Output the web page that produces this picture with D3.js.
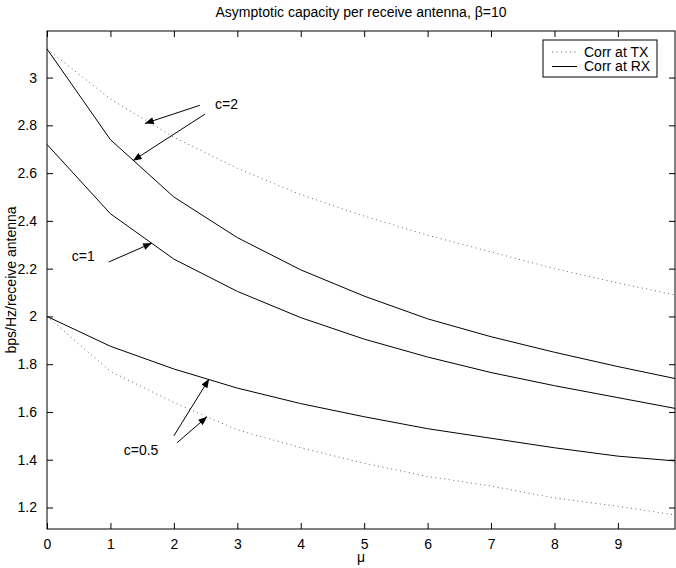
<!DOCTYPE html>
<html>
<head>
<meta charset="utf-8">
<script src="https://cdn.jsdelivr.net/npm/d3@7"></script>
<style>
  body { margin: 0; background: #fff; }
  text { font-family: "Liberation Sans", Arial, Helvetica, sans-serif; }
</style>
</head>
<body>
<div id="chart"></div>
<script>
// mu values (x axis)
const mu = [0, 1, 2, 3, 4, 5, 6, 7, 8, 9, 9.9];
// Corr at RX (solid), c = 2, 1, 0.5
const rxC2 = [3.12, 2.74, 2.50, 2.33, 2.195, 2.085, 1.99, 1.915, 1.85, 1.79, 1.74];
const rxC1 = [2.72, 2.43, 2.24, 2.105, 1.995, 1.905, 1.83, 1.765, 1.71, 1.66, 1.615];
const rxC05 = [2.0, 1.875, 1.78, 1.70, 1.635, 1.58, 1.53, 1.49, 1.45, 1.415, 1.395];
// Corr at TX (dotted), c = 2, 0.5
const txC2 = [3.12, 2.91, 2.75, 2.62, 2.51, 2.42, 2.34, 2.27, 2.20, 2.14, 2.09];
const txC05 = [2.0, 1.77, 1.64, 1.525, 1.45, 1.385, 1.33, 1.29, 1.24, 1.205, 1.169];

const xTicks = [0, 1, 2, 3, 4, 5, 6, 7, 8, 9];
const yTicks = [1.2, 1.4, 1.6, 1.8, 2, 2.2, 2.4, 2.6, 2.8, 3];

// annotations in data units: label, label position, arrows [from, to]
const notes = [
  {label: "c=2", at: [2.65, 2.87], arrows: [[[2.41, 2.884], [1.544, 2.808]], [[2.49, 2.847], [1.354, 2.652]]]},
  {label: "c=1", at: [0.39, 2.23], arrows: [[[0.975, 2.228], [1.654, 2.307]]]},
  {label: "c=0.5", at: [1.21, 1.42], arrows: [[[2.0, 1.50], [2.555, 1.738]], [[2.05, 1.471], [2.523, 1.58]]]}
];

const width = 676, height = 568;
const marginTop = 31, marginRight = 1, marginBottom = 39, marginLeft = 47;
const fontSize = 14;

const x = d3.scaleLinear()
    .domain([0, 9.9])
    .range([marginLeft, width - marginRight]);

const y = d3.scaleLinear()
    .domain([1.11, 3.195])
    .range([height - marginBottom, marginTop]);

const svg = d3.select("#chart")
  .append("svg")
    .attr("width", width)
    .attr("height", height)
    .attr("viewBox", [0, 0, width, height])
    .attr("style", `font: ${fontSize}px 'Liberation Sans', Arial, sans-serif;`);

svg.append("defs").append("marker")
    .attr("id", "head")
    .attr("viewBox", "0 0 10 8")
    .attr("refX", 10)
    .attr("refY", 4)
    .attr("markerWidth", 11)
    .attr("markerHeight", 7)
    .attr("markerUnits", "userSpaceOnUse")
    .attr("orient", "auto")
  .append("path")
    .attr("d", "M0,0L10,4L0,8z")
    .attr("fill", "#000");

// axes, Matlab style: ticks point inward on all four sides
const tickLen = 6;
svg.append("g")
    .attr("transform", `translate(0,${y.range()[0]})`)
    .call(d3.axisBottom(x).tickValues(xTicks).tickFormat(d3.format("d")).tickSizeInner(-tickLen).tickSizeOuter(0).tickPadding(10))
    .call(g => g.select(".domain").remove());

svg.append("g")
    .attr("transform", `translate(0,${y.range()[1]})`)
    .call(d3.axisTop(x).tickValues(xTicks).tickFormat("").tickSizeInner(-tickLen).tickSizeOuter(0))
    .call(g => g.select(".domain").remove());

svg.append("g")
    .attr("transform", `translate(${x.range()[0]},0)`)
    .call(d3.axisLeft(y).tickValues(yTicks).tickFormat(d => d3.format("")(d)).tickSizeInner(-tickLen).tickSizeOuter(0).tickPadding(10))
    .call(g => g.select(".domain").remove());

svg.append("g")
    .attr("transform", `translate(${x.range()[1]},0)`)
    .call(d3.axisRight(y).tickValues(yTicks).tickFormat("").tickSizeInner(-tickLen).tickSizeOuter(0))
    .call(g => g.select(".domain").remove());

svg.selectAll(".tick text").attr("font-size", fontSize).attr("font-family", "'Liberation Sans', Arial, sans-serif");
svg.selectAll(".tick line").attr("stroke", "#000");

// plot box
svg.append("rect")
    .attr("x", x.range()[0])
    .attr("y", y.range()[1])
    .attr("width", x.range()[1] - x.range()[0])
    .attr("height", y.range()[0] - y.range()[1])
    .attr("fill", "none")
    .attr("stroke", "#000");

const line = d3.line()
    .x((d, i) => x(mu[i]))
    .y(d => y(d));

const curves = [
  {values: txC2, dotted: true},
  {values: txC05, dotted: true},
  {values: rxC2, dotted: false},
  {values: rxC1, dotted: false},
  {values: rxC05, dotted: false}
];

svg.append("g")
    .attr("fill", "none")
  .selectAll()
  .data(curves)
  .join("path")
    .attr("d", d => line(d.values))
    .attr("stroke", d => d.dotted ? "#666" : "#000")
    .attr("stroke-width", 1)
    .attr("stroke-dasharray", d => d.dotted ? "1 3.5" : null);

// annotations
const ann = svg.append("g");
notes.forEach(n => {
  ann.append("text")
      .attr("x", x(n.at[0]))
      .attr("y", y(n.at[1]))
      .text(n.label);
  n.arrows.forEach(([a, b]) => {
    ann.append("line")
        .attr("x1", x(a[0])).attr("y1", y(a[1]))
        .attr("x2", x(b[0])).attr("y2", y(b[1]))
        .attr("stroke", "#000")
        .attr("marker-end", "url(#head)");
  });
});

// legend
const legend = svg.append("g").attr("transform", "translate(543,40)");
legend.append("rect")
    .attr("width", 114).attr("height", 37)
    .attr("fill", "#fff").attr("stroke", "#000");
[["Corr at TX", true], ["Corr at RX", false]].forEach(([label, dotted], i) => {
  const yy = 12 + i * 14.5;
  legend.append("line")
      .attr("x1", 9).attr("x2", 34)
      .attr("y1", yy).attr("y2", yy)
      .attr("stroke", dotted ? "#666" : "#000")
      .attr("stroke-dasharray", dotted ? "1 3.5" : null);
  legend.append("text")
      .attr("x", 41).attr("y", yy)
      .attr("dy", "0.35em")
      .text(label);
});

// title and axis labels
svg.append("text")
    .attr("x", (x.range()[0] + x.range()[1]) / 2)
    .attr("y", 17)
    .attr("text-anchor", "middle")
    .text("Asymptotic capacity per receive antenna, β=10");

svg.append("text")
    .attr("x", (x.range()[0] + x.range()[1]) / 2)
    .attr("y", 562)
    .attr("text-anchor", "middle")
    .text("μ");

svg.append("text")
    .attr("transform", `translate(16,${(y.range()[0] + y.range()[1]) / 2}) rotate(-90)`)
    .attr("text-anchor", "middle")
    .text("bps/Hz/receive antenna");
</script>
</body>
</html>
